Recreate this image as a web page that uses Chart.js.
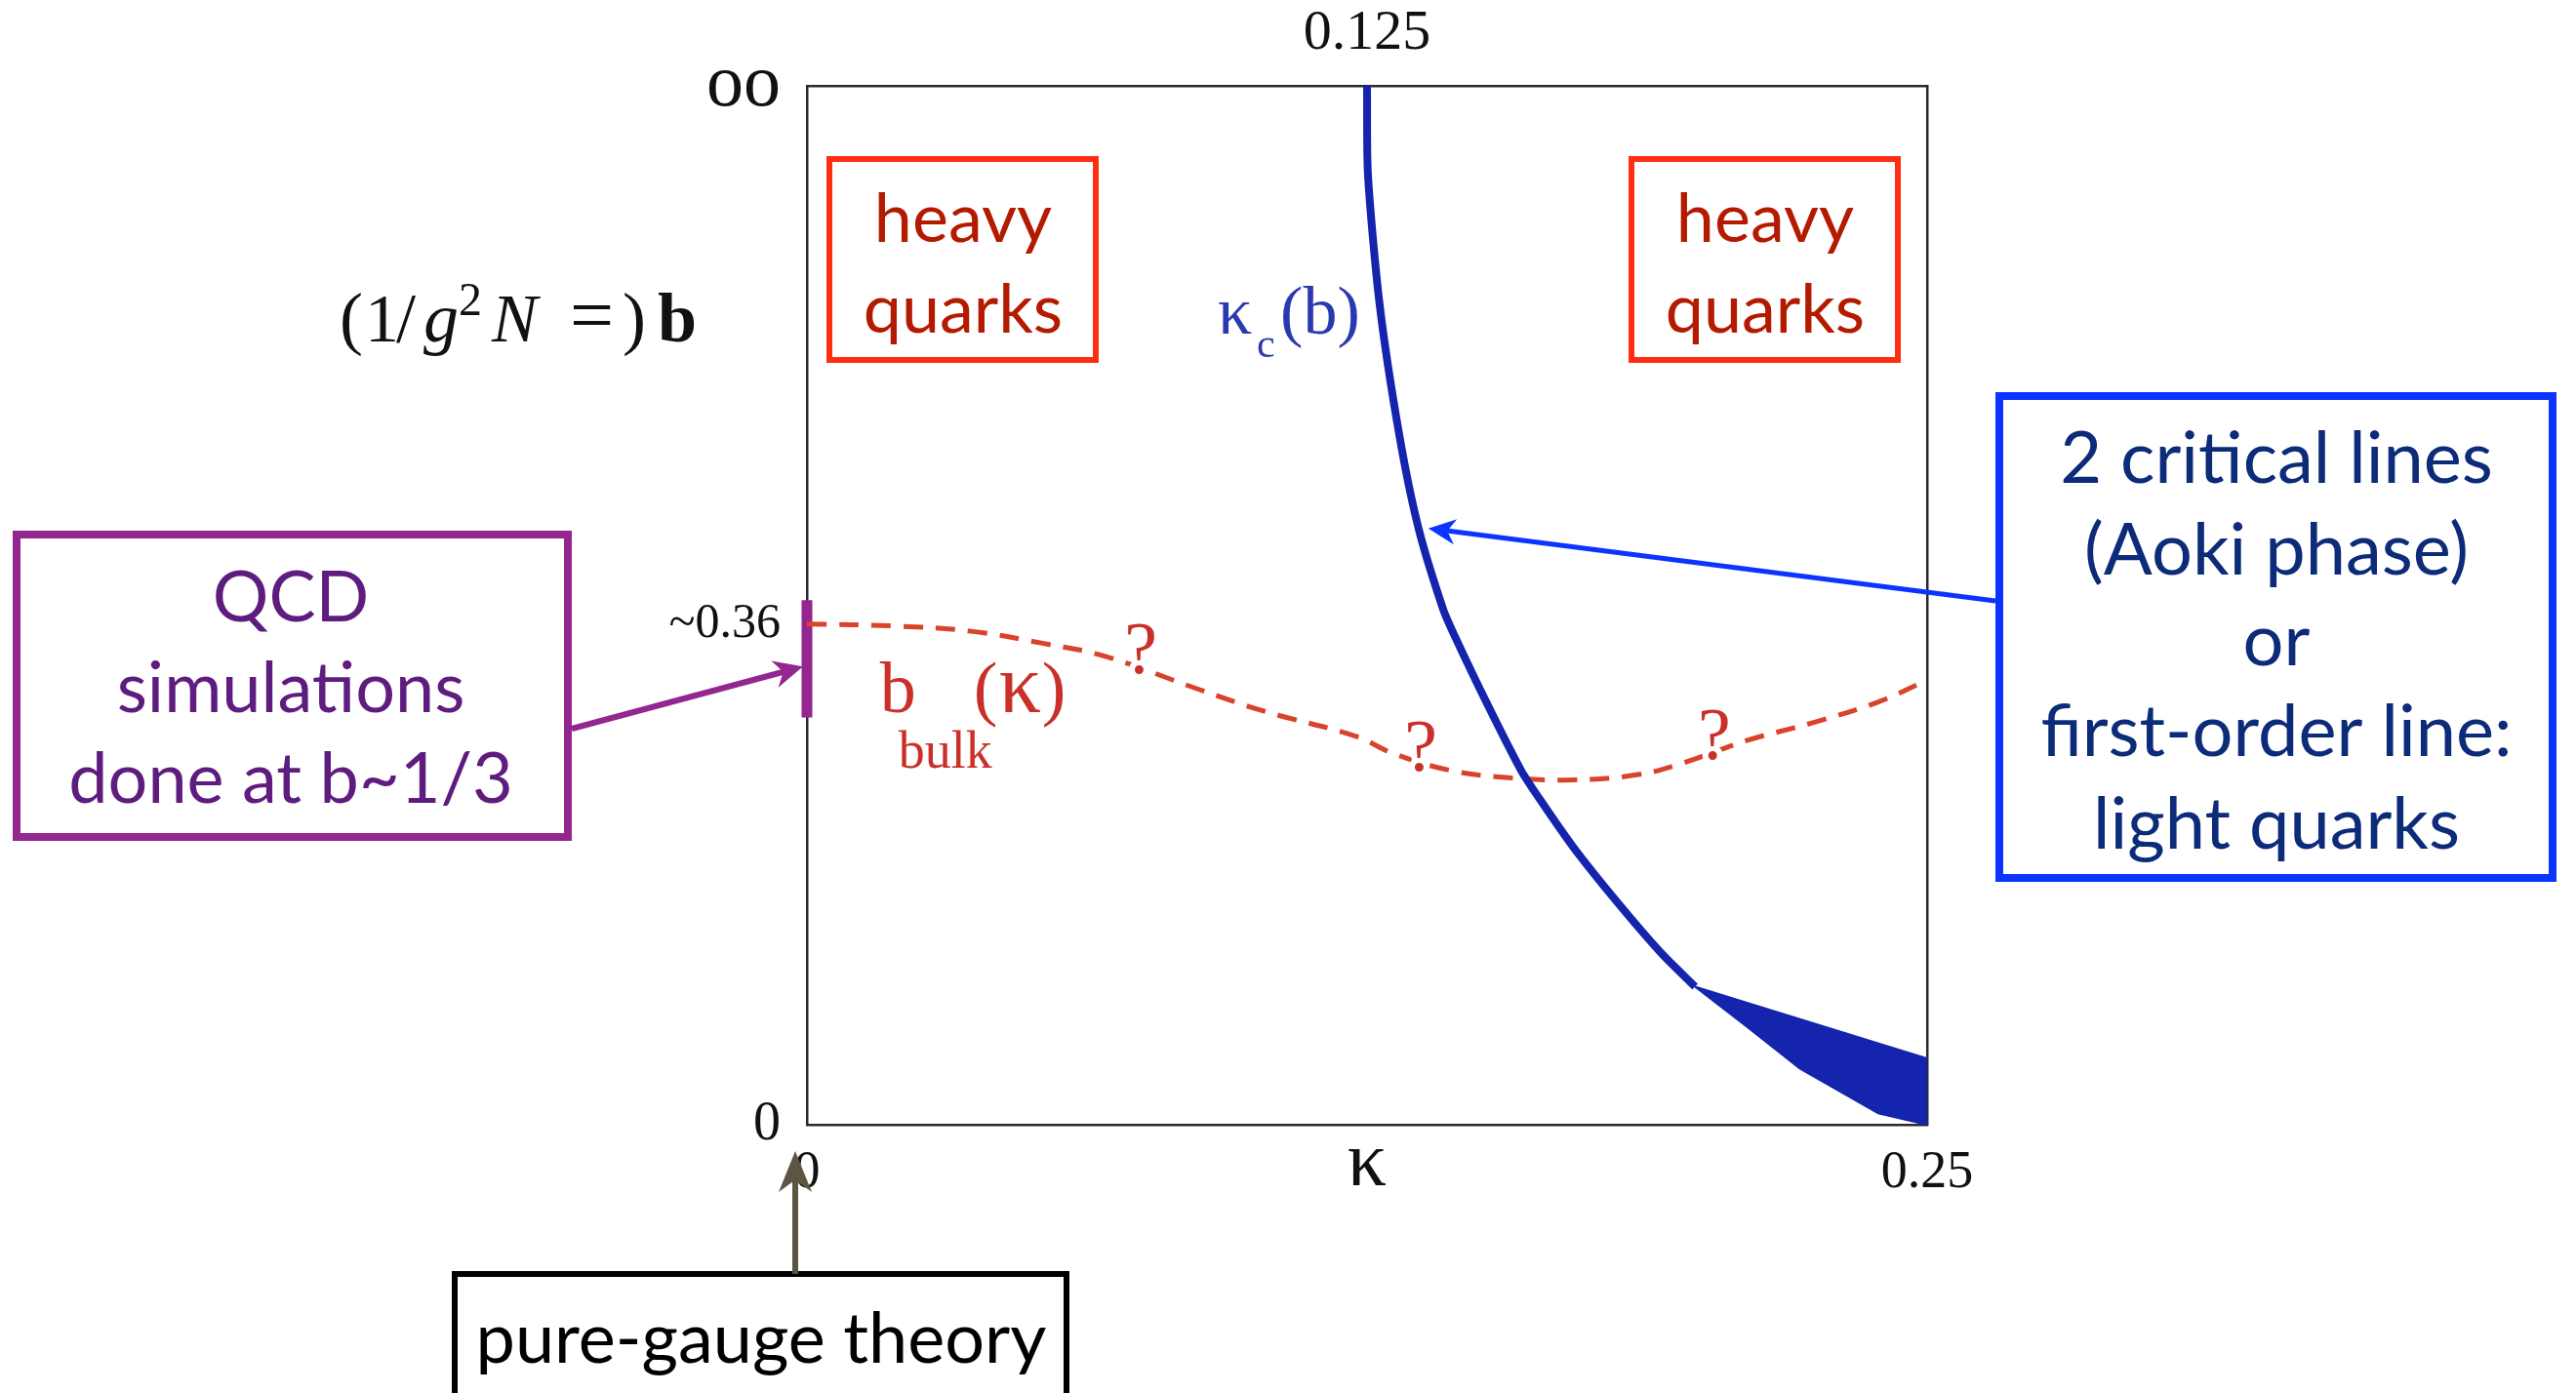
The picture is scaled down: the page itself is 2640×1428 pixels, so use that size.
<!DOCTYPE html>
<html>
<head>
<meta charset="utf-8">
<script src="https://cdn.jsdelivr.net/npm/chart.js@4.4.1/dist/chart.umd.min.js"></script>
<style>
  html, body { margin: 0; padding: 0; background: #fff; }
  canvas { display: block; }
</style>
</head>
<body>
<canvas id="phaseChart" width="2640" height="1428"></canvas>
<script>
// y is a compactified b axis: 0 -> b=0, 1 -> b=infinity
// critical line kappa_c(b)
const kcKappa = [0.1250, 0.1252, 0.1278, 0.1322, 0.1365, 0.1420, 0.1444, 0.1516, 0.1594, 0.1633, 0.1709, 0.1807, 0.1905, 0.1982];
const kcB     = [1.000,  0.915,  0.790,  0.664,  0.574,  0.496,  0.472,  0.407,  0.341,  0.315,  0.268,  0.215,  0.166,  0.133];

// widening band at strong coupling (closed outline)
const bandKappa = [0.1982, 0.2498, 0.2500, 0.2391, 0.2216, 0.2099, 0.1982];
const bandB     = [0.133,  0.064,  0.000,  0.011,  0.054,  0.094,  0.133];

// b_bulk(kappa), dashed
const bulkKappa = [0.0000, 0.0198, 0.0366, 0.0531, 0.0664, 0.0875, 0.1021, 0.1224, 0.1311, 0.1437, 0.1566, 0.1709, 0.1855, 0.1953, 0.2099, 0.2245, 0.2391, 0.2500];
const bulkB     = [0.482,  0.480,  0.475,  0.463,  0.451,  0.419,  0.398,  0.374,  0.357,  0.341,  0.334,  0.332,  0.337,  0.348,  0.370,  0.387,  0.407,  0.428];

// range of b used by QCD simulations (on the kappa=0 axis)
const qcdBarKappa = [0, 0];
const qcdBarB = [0.392, 0.505];

// question marks along b_bulk
const questionKappa = [0.0745, 0.1370, 0.2025];
const questionB     = [0.4535, 0.3596, 0.3709];

const xTickValues = [0, 0.125, 0.25];
const xTickLabels = ['0', 'κ', '0.25'];
const xTickSizes = [54, 80, 54];
const xTickLineHeights = [1.2, 0.6, 1.2];
const topTickValues = [0.125];
const topTickLabels = ['0.125'];
const yTickValues = [0, 0.482, 1];
const yTickLabels = ['0', '~0.36', 'oo'];
const yTickSizes = [56, 50, 76];

const SERIF = '"Liberation Serif", "DejaVu Serif", serif';
const SANS = 'Lato, "Open Sans", sans-serif';

const BLUE = '#1424ad';
const FRAME = '#2a2a2a';

const pts = (xs, ys) => xs.map((x, i) => ({ x: x, y: ys[i] }));

function arrow(ctx, x1, y1, x2, y2, color, width, head, half) {
    const a = Math.atan2(y2 - y1, x2 - x1);
    ctx.save();
    ctx.strokeStyle = color;
    ctx.fillStyle = color;
    ctx.lineWidth = width;
    ctx.beginPath();
    ctx.moveTo(x1, y1);
    ctx.lineTo(x2 - Math.cos(a) * head * 0.6, y2 - Math.sin(a) * head * 0.6);
    ctx.stroke();
    ctx.translate(x2, y2);
    ctx.rotate(a);
    ctx.beginPath();
    ctx.moveTo(0, 0);
    ctx.lineTo(-head, -half);
    ctx.lineTo(-head * 0.7, 0);
    ctx.lineTo(-head, half);
    ctx.closePath();
    ctx.fill();
    ctx.restore();
}

function textBox(ctx, x, y, w, h, border, lw, lines, color, size, cx, baselines) {
    ctx.save();
    ctx.strokeStyle = border;
    ctx.lineWidth = lw;
    ctx.strokeRect(x + lw / 2, y + lw / 2, w - lw, h - lw);
    ctx.fillStyle = color;
    ctx.font = `${size}px ${SANS}`;
    ctx.textAlign = 'center';
    ctx.textBaseline = 'alphabetic';
    lines.forEach((t, i) => ctx.fillText(t, cx, baselines[i]));
    ctx.restore();
}

const overlay = {
    id: 'overlay',
    afterDatasetsDraw(chart) {
        const ctx = chart.ctx;
        const xs = chart.scales.x, ys = chart.scales.y;

        // question marks on the dashed line, with a white halo to break the dashes
        ctx.save();
        ctx.font = `76px ${SERIF}`;
        ctx.textAlign = 'center';
        ctx.textBaseline = 'middle';
        ctx.lineJoin = 'round';
        questionKappa.forEach((k, i) => {
            const x = xs.getPixelForValue(k), y = ys.getPixelForValue(questionB[i]);
            ctx.lineWidth = 12;
            ctx.strokeStyle = '#fff';
            ctx.strokeText('?', x, y);
            ctx.fillStyle = '#c9302a';
            ctx.fillText('?', x, y);
        });
        ctx.restore();

        // kappa_c(b) label
        ctx.save();
        ctx.fillStyle = '#2b39b0';
        ctx.textBaseline = 'alphabetic';
        let lx = xs.getPixelForValue(0.0917), ly = ys.getPixelForValue(0.7615);
        ctx.font = `70px ${SERIF}`;
        ctx.fillText('κ', lx, ly);
        ctx.font = `42px ${SERIF}`;
        ctx.fillText('c', lx + 40, ly + 24);
        ctx.font = `70px ${SERIF}`;
        ctx.fillText('(b)', lx + 64, ly);
        ctx.restore();

        // b_bulk(kappa) label
        ctx.save();
        ctx.fillStyle = '#c9302a';
        lx = xs.getPixelForValue(0.0163);
        ly = ys.getPixelForValue(0.397);
        ctx.font = `74px ${SERIF}`;
        ctx.fillText('b', lx, ly);
        ctx.fillText('(', lx + 96, ly);
        ctx.fillText(')', lx + 166, ly);
        ctx.font = `86px ${SERIF}`;
        ctx.fillText('κ', lx + 122, ly);
        ctx.font = `54px ${SERIF}`;
        ctx.fillText('bulk', lx + 19, ly + 57);
        ctx.restore();
    },
    afterDraw(chart) {
        const ctx = chart.ctx;
        const xs = chart.scales.x, ys = chart.scales.y;

        // y axis title: (1/g^2 N =) b
        ctx.save();
        ctx.fillStyle = '#111';
        ctx.textBaseline = 'alphabetic';
        const tx = 348, tb = 350;
        const runs = [
            ['(', `72px ${SERIF}`, 0, 0],
            ['1', `70px ${SERIF}`, 26, 0],
            ['/', `72px ${SERIF}`, 58, 0],
            ['g', `italic 72px ${SERIF}`, 86, 0],
            ['2', `48px ${SERIF}`, 122, -27],
            ['N', `italic 70px ${SERIF}`, 156, 0],
            ['=', `80px ${SERIF}`, 236, 0],
            [')', `72px ${SERIF}`, 290, 0],
            ['b', `bold 72px ${SERIF}`, 326, 0]
        ];
        runs.forEach(r => {
            ctx.font = r[1];
            ctx.fillText(r[0], tx + r[2], tb + r[3]);
        });
        ctx.restore();

        // region labels
        textBox(ctx, 847, 160, 279, 212, '#ff2d12', 6, ['heavy', 'quarks'], '#b41a00', 70, 987, [248, 341]);
        textBox(ctx, 1669, 160, 279, 212, '#ff2d12', 6, ['heavy', 'quarks'], '#b41a00', 70, 1809, [248, 341]);

        textBox(ctx, 2045, 402, 575, 502, '#0b35ff', 8,
            ['2 critical lines', '(Aoki phase)', 'or', 'first-order line:', 'light quarks'],
            '#0c2b78', 74, 2333, [495, 589, 682, 775, 870]);

        textBox(ctx, 13, 544, 573, 318, '#93278f', 8,
            ['QCD', 'simulations', 'done at b~1/3'],
            '#5f1c7f', 72, 298, [637, 730, 823]);

        textBox(ctx, 463, 1303, 633, 140, '#000', 6,
            ['pure-gauge theory'], '#000', 72, 780, [1397]);

        // arrows
        const x0 = xs.getPixelForValue(0);
        arrow(ctx, 586, 747, x0 - 4, ys.getPixelForValue(0.441), '#93278f', 6, 30, 14);
        arrow(ctx, 2045, 616, xs.getPixelForValue(0.1365) + 10, ys.getPixelForValue(0.574), '#0b35ff', 5, 28, 13);
        arrow(ctx, x0 - 12, 1306, x0 - 12, 1180, '#5b5641', 6, 42, 17);
    }
};

new Chart(document.getElementById('phaseChart'), {
    type: 'scatter',
    data: {
        datasets: [
            {
                label: 'kappa_c(b)',
                data: pts(kcKappa, kcB),
                showLine: true,
                borderColor: BLUE,
                borderWidth: 8,
                pointRadius: 0,
                tension: 0.25,
                fill: false
            },
            {
                label: 'band',
                data: pts(bandKappa, bandB),
                showLine: true,
                borderColor: BLUE,
                backgroundColor: BLUE,
                borderWidth: 2,
                pointRadius: 0,
                tension: 0,
                fill: 'shape'
            },
            {
                label: 'b_bulk',
                data: pts(bulkKappa, bulkB),
                showLine: true,
                borderColor: '#d9432b',
                borderWidth: 5,
                borderDash: [20, 13],
                pointRadius: 0,
                tension: 0.4,
                fill: false
            },
            {
                label: 'QCD range',
                data: pts(qcdBarKappa, qcdBarB),
                showLine: true,
                borderColor: '#93278f',
                borderWidth: 11,
                borderCapStyle: 'butt',
                pointRadius: 0,
                clip: false
            }
        ]
    },
    options: {
        responsive: false,
        devicePixelRatio: 1,
        animation: false,
        layout: { padding: 0 },
        plugins: {
            legend: { display: false },
            tooltip: { enabled: false }
        },
        scales: {
            x: {
                type: 'linear',
                position: 'bottom',
                min: 0,
                max: 0.25,
                afterBuildTicks: s => { s.ticks = xTickValues.map(v => ({ value: v })); },
                afterFit: s => { s.height = 275; },
                grid: { display: false, drawTicks: false },
                border: { display: true, color: FRAME, width: 2.5 },
                ticks: {
                    autoSkip: false,
                    maxRotation: 0,
                    padding: 17,
                    color: '#111',
                    font: c => {
                        const i = xTickValues.indexOf(c.tick ? c.tick.value : 0);
                        return { family: SERIF, size: xTickSizes[i] || 54, lineHeight: xTickLineHeights[i] || 1.2 };
                    },
                    callback: v => xTickLabels[xTickValues.indexOf(v)]
                }
            },
            xTop: {
                type: 'linear',
                position: 'top',
                min: 0,
                max: 0.25,
                afterBuildTicks: s => { s.ticks = topTickValues.map(v => ({ value: v })); },
                afterFit: s => { s.height = 88; },
                grid: { display: false, drawTicks: false },
                border: { display: true, color: FRAME, width: 2.5 },
                ticks: {
                    autoSkip: false,
                    maxRotation: 0,
                    padding: 18,
                    color: '#111',
                    font: { family: SERIF, size: 58 },
                    callback: v => topTickLabels[topTickValues.indexOf(v)]
                }
            },
            y: {
                type: 'linear',
                position: 'left',
                min: 0,
                max: 1,
                afterBuildTicks: s => { s.ticks = yTickValues.map(v => ({ value: v })); },
                afterFit: s => { s.width = 827; },
                grid: { display: false, drawTicks: false },
                border: { display: true, color: FRAME, width: 2.5 },
                ticks: {
                    autoSkip: false,
                    padding: 27,
                    color: '#111',
                    font: c => ({ family: SERIF, size: yTickSizes[yTickValues.indexOf(c.tick ? c.tick.value : 0)] || 54 }),
                    callback: v => yTickLabels[yTickValues.indexOf(v)]
                }
            },
            yRight: {
                type: 'linear',
                position: 'right',
                min: 0,
                max: 1,
                afterFit: s => { s.width = 665; },
                grid: { display: false, drawTicks: false },
                border: { display: true, color: FRAME, width: 2.5 },
                ticks: { display: false }
            }
        }
    },
    plugins: [overlay]
});
</script>
</body>
</html>
